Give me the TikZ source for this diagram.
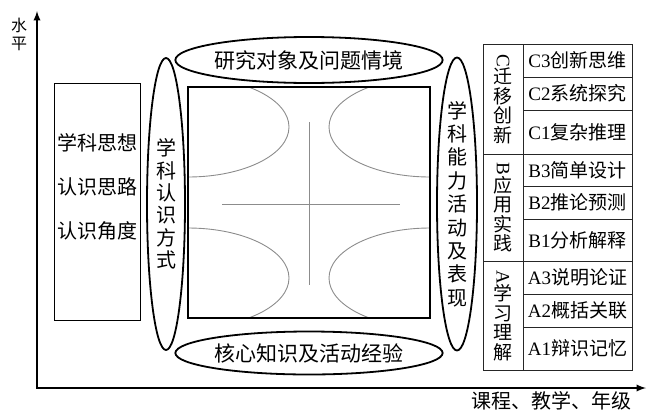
\documentclass[tikz,border=0pt]{standalone}
\usepackage{fontspec}
\setmainfont{Liberation Serif}
\newfontfamily\cjk{Noto Sans CJK SC}
\usetikzlibrary{arrows,shapes.geometric}

\begin{document}
\begin{tikzpicture}
[x=1pt,y=-1pt,
axis/.style={draw=black,line width=2.2pt,latex-latex},
frame/.style={draw=black,line width=1.6pt,inner sep=0pt},
oval/.style={ellipse,draw=black,line width=1.8pt,inner sep=0pt,align=center,font=\cjk\fontsize{20}{22.4}\selectfont},
guide/.style={draw=black!45,line width=0.9pt},
cell/.style={draw=black!85,line width=0.8pt,inner sep=0pt,align=center,font=\fontsize{19}{19.5}\selectfont},
words/.style={inner sep=0pt,align=center,font=\cjk\fontsize{20}{22}\selectfont}]

\useasboundingbox (0,0) rectangle (647,410);

\def \tabLeft {503}
\def \tabRight {577.5}

% Axes
\coordinate (ytop) at (37,11);
\coordinate (origin) at (37,388);
\coordinate (xend) at (646,388);
\draw[axis] (ytop) -- (origin) -- (xend);
\node[words,font=\cjk\fontsize{16}{18}\selectfont] (ylabel) at (19,34) {水\\平};
\node[words] (xlabel) at (551,401) {课程、教学、年级};

% Left box and ovals
\node[frame,minimum width=86,minimum height=237] (ideas) at (97.5,202) {};
\node[words,font=\cjk\fontsize{20}{44}\selectfont] (ideastext) at (97.5,187) {学科思想\\认识思路\\认识角度};
\node[oval,minimum width=38,minimum height=292] (way) at (166,204) {学\\科\\认\\识\\方\\式};
\node[oval,minimum width=242,minimum height=46,font=\cjk\fontsize{21}{22}\selectfont] (scene) at (309,60) {研究对象及问题情境};
\node[oval,minimum width=242,minimum height=43,font=\cjk\fontsize{21}{22}\selectfont] (knowledge) at (309,353) {核心知识及活动经验};
\node[oval,minimum width=40,minimum height=293,font=\cjk\fontsize{20}{23.4}\selectfont] (ability) at (457,204) {学\\科\\能\\力\\活\\动\\及\\表\\现};

% Central square
\node[frame,minimum width=242,minimum height=231] (core) at (309,202.5) {};
\begin{scope}
\clip (core.south west) rectangle (core.north east);
\foreach \cx/\cy in {188/127,430/127,188/278,430/278}
	\draw[guide] (\cx,\cy) ellipse [x radius=101,y radius=50];
\end{scope}
\draw[guide] (309,122) -- (309,285);
\draw[guide] (222,204) -- (400,204);
\node[frame,minimum width=242,minimum height=231] at (core.center) {};

% Levels table
\node[cell,minimum width=40,minimum height=110] (grpc) at (\tabLeft,99) {\rotatebox{-90}{C}\\\cjk 迁\\\cjk 移\\\cjk 创\\\cjk 新};
\node[cell,minimum width=40,minimum height=107] (grpb) at (\tabLeft,207.5) {\rotatebox{-90}{B}\\\cjk 应\\\cjk 用\\\cjk 实\\\cjk 践};
\node[cell,minimum width=40,minimum height=109] (grpa) at (\tabLeft,315.5) {\rotatebox{-90}{A}\\\cjk 学\\\cjk 习\\\cjk 理\\\cjk 解};

\foreach \name/\y/\h/\code/\txt in {c3/60.5/33/C3/创新思维,c2/93.5/33/C2/系统探究,c1/132/44/C1/复杂推理,b3/170/32/B3/简单设计,b2/202.5/33/B2/推论预测,b1/240/42/B1/分析解释,a3/277.5/33/A3/说明论证,a2/310.5/33/A2/概括关联,a1/348.5/43/A1/辩识记忆}
	\node[cell,minimum width=109,minimum height=\h] (\name) at (\tabRight,\y) {\code{\cjk\txt}};
\end{tikzpicture}
\end{document}
